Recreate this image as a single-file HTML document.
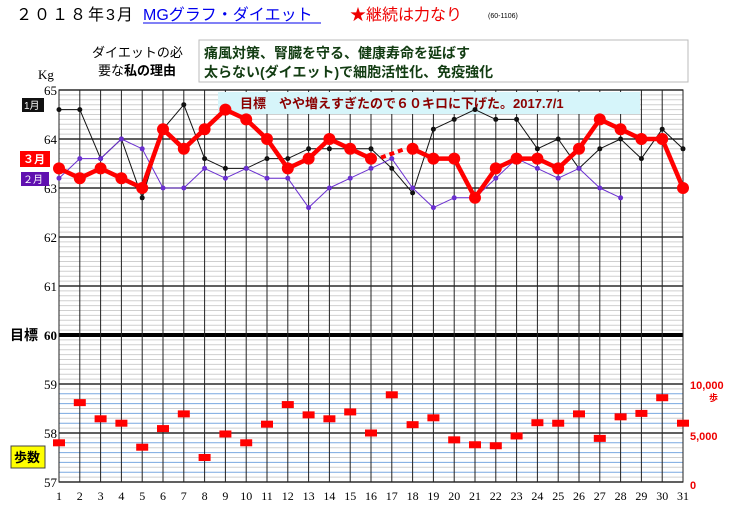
<!DOCTYPE html>
<html><head><meta charset="utf-8"><style>
body{margin:0;background:#fff;width:729px;height:505px;overflow:hidden;font-family:"Liberation Sans","Noto Sans CJK JP",sans-serif;}
</style></head><body>
<svg width="729" height="505" xmlns="http://www.w3.org/2000/svg" font-family="'Liberation Sans','Noto Sans CJK JP',sans-serif">
<text x="16" y="20" font-size="16" fill="#000" letter-spacing="2">２０１８年3月</text>
<text x="143" y="20" font-size="16" fill="#0000ee">MGグラフ・ダイエット</text>
<line x1="143" y1="23" x2="321" y2="23" stroke="#0000ee" stroke-width="1"/>
<text x="350" y="20" font-size="16" fill="#e00">★継続は力なり</text>
<text x="488" y="18" font-size="7" fill="#000">(60-1106)</text>
<text x="92" y="57" font-size="13" fill="#000">ダイエットの必</text>
<text x="98" y="75" font-size="13" fill="#000">要な<tspan font-weight="bold">私の理由</tspan></text>
<rect x="199" y="40" width="489" height="42" fill="#fff" stroke="#bbb"/>
<text x="204" y="58" font-size="14" fill="#123c12" font-weight="bold">痛風対策、腎臓を守る、健康寿命を延ばす</text>
<text x="204" y="77" font-size="14" fill="#123c12" font-weight="bold">太らない(ダイエット)で細胞活性化、免疫強化</text>
<text x="38" y="79" font-size="13" font-family="'Liberation Serif',serif">Kg</text>
<g id="grid"></g>
<rect x="218" y="92" width="422" height="22" fill="#d6f5fa"/>
<text x="240" y="108" font-size="13" fill="#8b0000" font-weight="bold">目標　やや増えすぎたので６０キロに下げた。2017.7/1</text>
<g id="series"></g>
<g id="labels"></g>
<rect x="22" y="98" width="22" height="14" fill="#111"/>
<text x="24" y="109" font-size="10" fill="#fff">1月</text>
<rect x="20" y="151" width="30" height="16" fill="#f00"/>
<text x="23" y="163" font-size="11" fill="#fff" font-weight="bold">３月</text>
<rect x="21" y="172" width="28" height="14" fill="#6010b0"/>
<text x="23" y="183" font-size="10" fill="#fff">２月</text>
<text x="10" y="340" font-size="14" font-weight="bold">目標</text>
<rect x="11" y="446" width="34" height="22" fill="#ffff00" stroke="#444"/>
<text x="14" y="462" font-size="13" font-weight="bold">歩数</text>
<text x="690" y="389" font-size="11" fill="#e00" font-weight="bold">10,000</text>
<text x="709" y="401" font-size="9" fill="#e00" font-weight="bold">歩</text>
<text x="690" y="440" font-size="11" fill="#e00" font-weight="bold">5,000</text>
<text x="690" y="489" font-size="11" fill="#e00" font-weight="bold">0</text>
</svg>
<script>
const days=[1,2,3,4,5,6,7,8,9,10,11,12,13,14,15,16,17,18,19,20,21,22,23,24,25,26,27,28,29,30,31];
const yTicks=[65,64,63,62,61,60,59,58,57];
const marchWeight=[63.4,63.2,63.4,63.2,63.0,64.2,63.8,64.2,64.6,64.4,64.0,63.4,63.6,64.0,63.8,63.6,null,63.8,63.6,63.6,62.8,63.4,63.6,63.6,63.4,63.8,64.4,64.2,64.0,64.0,63.0];
const janWeight=[64.6,64.6,63.6,64.0,62.8,64.2,64.7,63.6,63.4,63.4,63.6,63.6,63.8,63.8,63.8,63.8,63.4,62.9,64.2,64.4,64.6,64.4,64.4,63.8,64.0,63.4,63.8,64.0,63.6,64.2,63.8];
const febWeight=[63.2,63.6,63.6,64.0,63.8,63.0,63.0,63.4,63.2,63.4,63.2,63.2,62.6,63.0,63.2,63.4,63.6,63.0,62.6,62.8,62.8,63.2,63.6,63.4,63.2,63.4,63.0,62.8];
const marchSteps=[4000,8100,6450,6000,3550,5450,6950,2500,4900,4000,5900,7900,6850,6450,7150,5000,8900,5850,6550,4300,3800,3700,4700,6050,6000,6950,4450,6650,7000,8600,6000];
const NS="http://www.w3.org/2000/svg";
const X0=59,DX=20.8,YT=90,PK=49;
const x=d=>X0+(d-1)*DX;
const y=v=>YT+(65-v)*PK;
const ys=s=>y(57)-s*(2*PK/10000);
function mk(tag,attrs,parent){const e=document.createElementNS(NS,tag);for(const k in attrs)e.setAttribute(k,attrs[k]);parent.appendChild(e);return e;}
const grid=document.getElementById('grid'),ser=document.getElementById('series'),lab=document.getElementById('labels');
mk('rect',{x:x(1),y:y(65),width:x(31)-x(1),height:y(57)-y(65),fill:'#fff',stroke:'#000'},grid);
for(let i=1;i<80;i++){const v=65-i*0.1;if(i%10===0)continue;
 const blue=(v<59.05&&i%2===0);
 const l=mk('line',{x1:x(1),x2:x(31),y1:y(v),y2:y(v),stroke:blue?'#7aa8e0':'#cfcfcf','stroke-width':1},grid);
 
 }
yTicks.forEach(t=>{const l=mk('line',{x1:x(1),x2:x(31),y1:y(t),y2:y(t),stroke:'#000','stroke-width':t===60?4:1.2},grid);
 
 
 const tx=mk('text',{x:57,y:y(t)+5,'text-anchor':'end','font-size':13,'font-family':"'Liberation Serif',serif",'font-weight':t===60?'bold':'normal'},lab);tx.textContent=t;
 
 });
days.forEach(d=>{const l=mk('line',{x1:x(d),x2:x(d),y1:y(65),y2:y(57),stroke:'#222','stroke-width':1},grid);
 
 
 const t=mk('text',{x:x(d),y:500,'text-anchor':'middle','font-size':12,'font-family':"'Liberation Serif',serif"},lab);t.textContent=d;
 
 });
function line(data,color,w,r,name){let segs=[],cur=[];data.forEach((v,i)=>{if(v==null){if(cur.length)segs.push(cur);cur=[];}else cur.push(x(days[i])+','+y(v));});if(cur.length)segs.push(cur);
 segs.forEach(s=>{const p=mk('polyline',{points:s.join(' '),fill:'none',stroke:color,'stroke-width':w,'stroke-linejoin':'round'},ser);
 
 });
 data.forEach((v,i)=>{if(v==null)return;const c=mk('circle',{cx:x(days[i]),cy:y(v),r:r,fill:color},ser);
 
 });}
line(janWeight,'#111',1,2.5,'jan-weight');
line(febWeight,'#6a2fd0',1,2.5,'feb-weight');
for(let i=0;i<marchWeight.length;i++){if(marchWeight[i]==null){let a=i-1,b=i+1;while(b<marchWeight.length&&marchWeight[b]==null)b++;
 const p=mk('line',{x1:x(days[a])+10,y1:y(marchWeight[a])-1,x2:x(days[b])-10,y2:y(marchWeight[b])+1,stroke:'#f00','stroke-width':4,'stroke-dasharray':'5,4'},ser);
 
 }}
line(marchWeight,'#f00',4.5,6,'mar-weight');
marchSteps.forEach((s,i)=>{const r=mk('rect',{x:x(days[i])-6,y:ys(s)-3.5,width:12,height:7,fill:'#f00'},ser);
 
 });
</script>
</body></html>
